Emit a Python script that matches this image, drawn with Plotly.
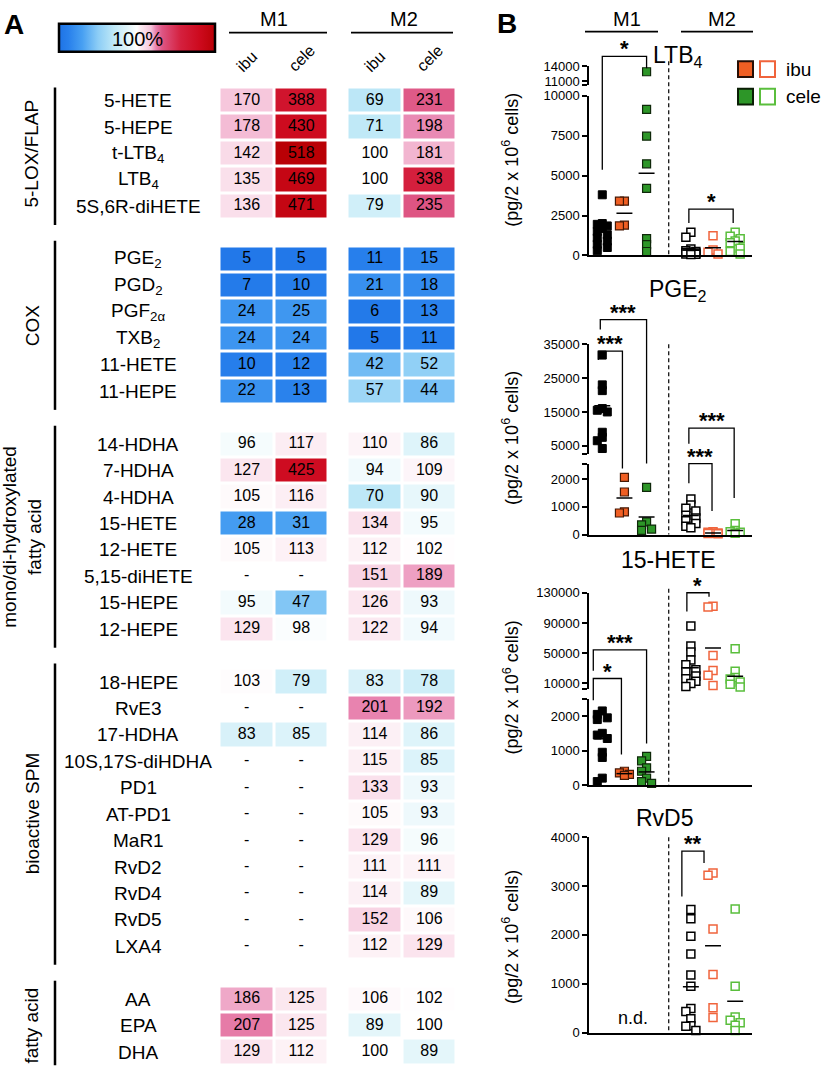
import plotly.graph_objects as go

W, H = 825, 1078
FONT = "Liberation Sans, Arial, sans-serif"


def fx(x):
    return x / W


def fy(y):
    return 1 - y / H


# ================= Panel A data =================
group_names = ["5-LOX/FLAP", "COX", "mono/di-hydroxylated<br>fatty acid", "bioactive SPM", "fatty acid"]
group_sizes = [5, 6, 8, 11, 3]
analytes = ["5-HETE", "5-HEPE", "t-LTB<sub>4</sub>", "LTB<sub>4</sub>", "5S,6R-diHETE",
            "PGE<sub>2</sub>", "PGD<sub>2</sub>", "PGF<sub>2α</sub>", "TXB<sub>2</sub>", "11-HETE", "11-HEPE",
            "14-HDHA", "7-HDHA", "4-HDHA", "15-HETE", "12-HETE", "5,15-diHETE", "15-HEPE", "12-HEPE",
            "18-HEPE", "RvE3", "17-HDHA", "10S,17S-diHDHA", "PD1", "AT-PD1", "MaR1", "RvD2", "RvD4", "RvD5", "LXA4",
            "AA", "EPA", "DHA"]
m1_ibu = [170, 178, 142, 135, 136,
          5, 7, 24, 24, 10, 22,
          96, 127, 105, 28, 105, None, 95, 129,
          103, None, 83, None, None, None, None, None, None, None, None,
          186, 207, 129]
m1_cele = [388, 430, 518, 469, 471,
           5, 10, 25, 24, 12, 13,
           117, 425, 116, 31, 113, None, 47, 98,
           79, None, 85, None, None, None, None, None, None, None, None,
           125, 125, 112]
m2_ibu = [69, 71, 100, 100, 79,
          11, 21, 6, 5, 42, 57,
          110, 94, 70, 134, 112, 151, 126, 122,
          83, 201, 114, 115, 133, 105, 129, 111, 114, 152, 112,
          106, 89, 100]
m2_cele = [231, 198, 181, 338, 235,
           15, 18, 13, 11, 52, 44,
           86, 109, 90, 95, 102, 189, 93, 94,
           78, 192, 86, 85, 93, 93, 96, 111, 89, 106, 129,
           102, 100, 89]
treat_labels = ["ibu", "cele"]
cond_labels = ["M1", "M2"]

# ================= Panel B data =================
group_x = [0.6, 1.6, 2.6, 4.6, 5.6, 6.6]   # M1 ctrl, M1 ibu, M1 cele, M2 ctrl, M2 ibu, M2 cele
ltb4_vals = [
    [3800, 2000, 1950, 1850, 1700, 1500, 1300, 1100, 900, 700, 500, 300],
    [3400, 3400, 1900, 1850],
    [12900, 9150, 7470, 5740, 4200, 1050, 680, 250],
    [1450, 1150, 400, 300, 250, 200, 180, 150, 120, 100, 80, 60],
    [1230, 350, 200, 100],
    [1450, 1200, 1050, 900, 800, 450, 250, 100],
]
ltb4_means = [1480, 2650, 5150, 350, 480, 880]
pge2_vals = [
    [31800, 23000, 21300, 16000, 15500, 15000, 9000, 7500, 6500, 4200],
    [2070, 1540, 820, 780],
    [1710, 460, 350, 200, 150],
    [1290, 1070, 950, 850, 700, 600, 500, 400, 300, 250],
    [100, 80, 60, 50, 40, 30],
    [390, 150, 100, 80, 50],
]
pge2_means = [16800, 1320, 640, 690, 60, 150]
hete15_vals = [
    [2150, 2050, 1950, 1900, 1500, 1450, 1350, 950, 800, 200, 100],
    [400, 350, 310, 280],
    [830, 700, 500, 400, 200, 100, 50],
    [86000, 59600, 51700, 41000, 34600, 28000, 25400, 20000, 16200, 13000, 10000, 6000],
    [112000, 111000, 47000, 27000, 20800, 7400],
    [56000, 26000, 18000, 16000, 12000, 9000, 5300],
]
hete15_means = [1340, 330, 380, 30600, 56800, 19500]
rvd5_vals = [
    [], [], [],
    [2520, 2330, 1970, 1610, 1180, 950, 490, 430, 280, 140, 130, 40],
    [3270, 3220, 2120, 1190, 510, 310],
    [2530, 950, 320, 250, 200, 150, 40],
]
rvd5_means = [None, None, None, 940, 1780, 640]

ORANGE = "rgb(240,95,35)"
GREEN = "rgb(45,150,40)"
styles = [
    dict(color="black", line=dict(color="black", width=1)),
    dict(color=ORANGE, line=dict(color="rgb(70,25,5)", width=1.2)),
    dict(color=GREEN, line=dict(color="rgb(15,40,10)", width=1.2)),
    dict(color="white", line=dict(color="black", width=1.5)),
    dict(color="white", line=dict(color="rgb(240,100,60)", width=1.5)),
    dict(color="white", line=dict(color="rgb(90,190,60)", width=1.5)),
]

fig = go.Figure()
shapes = []
annos = []

# ================= Panel A (heatmap) =================
ROW0 = 95.0
PITCH = 26.8
rows = []
idx = 0
group_rows = []
for g, n in enumerate(group_sizes):
    gr = []
    for i in range(n):
        rows.append(idx)
        gr.append(idx)
        idx += 1
    group_rows.append(gr)
    idx += 1
NROW = rows[-1]


def tr(v):
    # colour index: 100 % sits in the middle of the colour scale
    if v is None:
        return None
    return v / 100.0 if v <= 100 else 1 + (v - 100) / 418.0


colorscale = [
    [0.0, "rgb(30,115,230)"], [0.06, "rgb(40,128,236)"], [0.15, "rgb(72,160,242)"],
    [0.25, "rgb(140,205,246)"], [0.35, "rgb(190,232,247)"], [0.44, "rgb(226,245,250)"],
    [0.5, "rgb(255,255,255)"], [0.52, "rgb(252,237,243)"], [0.545, "rgb(250,222,234)"],
    [0.59, "rgb(245,195,218)"], [0.62, "rgb(232,132,176)"], [0.66, "rgb(222,86,132)"],
    [0.78, "rgb(212,32,62)"], [0.9, "rgb(205,10,30)"], [1.0, "rgb(185,0,5)"],
]

y_top = ROW0 - PITCH / 2
y_bot = ROW0 + NROW * PITCH + PITCH / 2

for ci, (va, vb) in enumerate([(m1_ibu, m1_cele), (m2_ibu, m2_cele)]):
    z = [[None, None] for _ in range(NROW + 1)]
    for k, r in enumerate(rows):
        z[r] = [tr(va[k]), tr(vb[k])]
    xa = "x" if ci == 0 else "x2"
    fig.add_trace(go.Heatmap(z=z, x=[0, 1], y=list(range(NROW + 1)), coloraxis="coloraxis",
                             xgap=3, ygap=3, xaxis=xa, yaxis="y", hoverinfo="skip"))
    txt = [("-" if v is None else str(v)) for v in va] + [("-" if v is None else str(v)) for v in vb]
    fig.add_trace(go.Scatter(x=[0] * len(rows) + [1] * len(rows), y=rows + rows, text=txt, mode="text",
                             textfont=dict(size=16, color="black", family=FONT), xaxis=xa, yaxis="y",
                             showlegend=False, hoverinfo="skip", cliponaxis=False))

# row labels
for k, r in enumerate(rows):
    annos.append(dict(x=fx(138), xref="paper", y=r, yref="y", text=analytes[k], showarrow=False,
                      font=dict(size=19, family=FONT, color="black"), xanchor="center", yanchor="middle"))
# group brackets + labels
for g, gr in enumerate(group_rows):
    shapes.append(dict(type="line", xref="paper", yref="y", x0=fx(55), x1=fx(55),
                       y0=gr[0] - 0.7, y1=gr[-1] + 0.7, line=dict(color="black", width=2.5)))
    two = "<br>" in group_names[g]
    annos.append(dict(x=fx(22 if two else 32), xref="paper", y=(gr[0] + gr[-1]) / 2, yref="y",
                      text=group_names[g], textangle=-90, showarrow=False,
                      font=dict(size=19, family=FONT, color="black"), xanchor="center", yanchor="middle"))

# headers
for ci, (cx, lx0, lx1) in enumerate([(274, 229, 327), (404, 351, 453)]):
    annos.append(dict(x=fx(cx), y=fy(12), xref="paper", yref="paper", text=cond_labels[ci], showarrow=False,
                      font=dict(size=20, family=FONT, color="black"), xanchor="center", yanchor="middle"))
    shapes.append(dict(type="line", xref="paper", yref="paper", x0=fx(lx0), x1=fx(lx1), y0=fy(26), y1=fy(26),
                       line=dict(color="black", width=1.8)))
for ci, xa in enumerate(["x", "x2"]):
    for ti, t in enumerate(treat_labels):
        annos.append(dict(x=ti, xref=xa, y=fy(55 if ti == 0 else 52), yref="paper", text=t, textangle=-45,
                          showarrow=False, font=dict(size=16, family=FONT, color="black"),
                          xanchor="center", yanchor="middle"))

annos.append(dict(x=fx(137), y=fy(32), xref="paper", yref="paper", text="100%", showarrow=False,
                  font=dict(size=20, family=FONT, color="black"), xanchor="center", yanchor="middle"))
annos.append(dict(x=fx(14), y=fy(18), xref="paper", yref="paper", text="<b>A</b>", showarrow=False,
                  font=dict(size=28, family=FONT, color="black"), xanchor="center", yanchor="middle"))
annos.append(dict(x=fx(507), y=fy(17), xref="paper", yref="paper", text="<b>B</b>", showarrow=False,
                  font=dict(size=28, family=FONT, color="black"), xanchor="center", yanchor="middle"))

layout = dict(
    width=W, height=H, margin=dict(l=0, r=0, t=0, b=0), paper_bgcolor="white", plot_bgcolor="rgba(0,0,0,0)",
    showlegend=False, font=dict(family=FONT, color="black"),
    coloraxis=dict(colorscale=colorscale, cmin=0, cmax=2,
                   colorbar=dict(orientation="h", x=fx(137), xanchor="center", y=fy(32), yanchor="middle",
                                 len=156, lenmode="pixels", thickness=28, thicknessmode="pixels",
                                 outlinewidth=2.5, outlinecolor="black", showticklabels=False, ticks="",
                                 xpad=0, ypad=0)),
    xaxis=dict(domain=[fx(219.5), fx(328.5)], range=[-0.5, 1.5], anchor="y", visible=False),
    xaxis2=dict(domain=[fx(347.5), fx(456.5)], range=[-0.5, 1.5], anchor="y", visible=False),
    yaxis=dict(domain=[max(0.0, fy(y_bot)), fy(y_top)], range=[NROW + 0.5, -0.5], anchor="x", visible=False),
)

# ================= Panel B (scatter) =================
XPX0, XPX1 = 589, 752
XR = [0, 7.36]
PXU = (XPX1 - XPX0) / (XR[1] - XR[0])

panels = [
    dict(title="LTB<sub>4</sub>", vals=ltb4_vals, means=ltb4_means, title_xy=(677, 50), ytitle_y=155,
         top=55, nd=False,
         segs=[dict(rng=[0, 10000], px=[252, 90], tv=[0, 2500, 5000, 7500, 10000],
                    tt=["0", "2500", "5000", "7500", "10000"]),
               dict(rng=[10300, 14000], px=[79, 60], tv=[10300, 11000, 14000], tt=["", "11000", "14000"])],
         brackets=[dict(g=(0, 2), top=50, lb=165, rb=62, lab="*", dx=(0, 0)),
                   dict(g=(3, 5), top=205, lb=219, rb=219, lab="*", dx=(-2, -2))]),
    dict(title="PGE<sub>2</sub>", vals=pge2_vals, means=pge2_means, title_xy=(678, 288), ytitle_y=437,
         top=342, nd=False,
         segs=[dict(rng=[0, 2570], px=[535, 463], tv=[0, 1000, 2000, 2570], tt=["0", "1000", "2000", ""]),
               dict(rng=[2670, 35000], px=[453, 342], tv=[2670, 5000, 15000, 25000, 35000],
                    tt=["", "5000", "15000", "25000", "35000"])],
         brackets=[dict(g=(0, 2), top=317, lb=327, rb=463, lab="***", dx=(-2, 0)),
                   dict(g=(0, 1), top=349, lb=358, rb=468, lab="***", dx=(-4, -2)),
                   dict(g=(3, 4), top=463, lb=483, rb=511, lab="***", dx=(-2, -1)),
                   dict(g=(3, 5), top=427, lb=443, rb=498, lab="***", dx=(-2, -1))]),
    dict(title="15-HETE", vals=hete15_vals, means=hete15_means, title_xy=(668, 561), ytitle_y=690,
         top=590, nd=False,
         segs=[dict(rng=[0, 2490], px=[789, 702], tv=[0, 1000, 2000, 2490], tt=["0", "1000", "2000", ""]),
               dict(rng=[2170, 130000], px=[692, 594], tv=[2170, 10000, 50000, 90000, 130000],
                    tt=["", "10000", "50000", "90000", "130000"])],
         brackets=[dict(g=(0, 2), top=652, lb=673, rb=747, lab="***", dx=(-9, 0)),
                   dict(g=(0, 1), top=681, lb=703, rb=758, lab="*", dx=(-9, -3)),
                   dict(g=(3, 4), top=594, lb=613, rb=598, lab="*", dx=(-4, -4))]),
    dict(title="RvD5", vals=rvd5_vals, means=rvd5_means, title_xy=(665, 822), ytitle_y=943,
         top=842, nd=True,
         segs=[dict(rng=[0, 4000], px=[1040, 842], tv=[0, 1000, 2000, 3000, 4000],
                    tt=["0", "1000", "2000", "3000", "4000"])],
         brackets=[dict(g=(3, 4), top=856, lb=902, rb=868, lab="**", dx=(-9, -9))]),
]

ynum = 2
for p, P in enumerate(panels):
    xn = 3 + p
    xid = f"x{xn}"
    yids = []
    for s, S in enumerate(P["segs"]):
        yid = f"y{ynum}"
        yids.append(yid)
        layout[f"yaxis{ynum}"] = dict(
            domain=[fy(S["px"][0]), fy(S["px"][1])], range=S["rng"], anchor=xid,
            showline=True, linecolor="black", linewidth=1.5, ticks="outside", ticklen=5, tickwidth=1.5,
            tickcolor="black", tickvals=S["tv"], ticktext=S["tt"], tickfont=dict(size=13, family=FONT),
            showgrid=False, zeroline=False)
        ynum += 1
    layout[f"xaxis{xn}"] = dict(domain=[fx(XPX0), fx(XPX1)], range=XR, anchor=yids[0], showline=True,
                                linecolor="black", linewidth=1.5, showticklabels=False, ticks="",
                                showgrid=False, zeroline=False)

    def seg_of(v, P=P):
        for s, S in enumerate(P["segs"]):
            if S["rng"][0] <= v <= S["rng"][1]:
                return s
        return 0 if v < P["segs"][0]["rng"][1] else len(P["segs"]) - 1

    def to_px(v, P=P):
        S = P["segs"][seg_of(v)]
        (lo, hi), (pb, pt) = S["rng"], S["px"]
        return pb + (v - lo) / (hi - lo) * (pt - pb)

    # points: small horizontal nudge for squares that would sit on top of each other
    for gi, vals in enumerate(P["vals"]):
        placed = []
        xs, ys = [], []
        for v in sorted(vals, reverse=True):
            yp = to_px(v)
            best, best_d = 0, -1
            for k in [0, -1, 1]:
                xo = k * 5.0
                d = min([max(abs(xo - a), abs(yp - b)) for a, b in placed] or [99])
                if d >= 6:
                    best = xo
                    break
                if d > best_d:
                    best, best_d = xo, d
            placed.append((best, yp))
            xs.append(group_x[gi] + best / PXU)
            ys.append(v)
        for s in range(len(P["segs"])):
            sx = [x for x, v in zip(xs, ys) if seg_of(v) == s]
            sy = [v for v in ys if seg_of(v) == s]
            if not sx:
                continue
            st = styles[gi]
            fig.add_trace(go.Scatter(x=sx, y=sy, mode="markers", xaxis=xid, yaxis=yids[s],
                                     marker=dict(symbol="square", size=8, color=st["color"], line=st["line"]),
                                     cliponaxis=False, showlegend=False, hoverinfo="skip"))
        m = P["means"][gi]
        if m is not None:
            s = seg_of(m)
            fig.add_trace(go.Scatter(x=[group_x[gi] - 0.36, group_x[gi] + 0.36], y=[m, m], mode="lines",
                                     xaxis=xid, yaxis=yids[s], line=dict(color="black", width=1.5),
                                     cliponaxis=False, showlegend=False, hoverinfo="skip"))

    # dashed separator
    shapes.append(dict(type="line", xref=xid, yref="paper", x0=3.6, x1=3.6, y0=fy(P["top"]),
                       y1=fy(P["segs"][0]["px"][0]), line=dict(color="black", width=1.2, dash="4px,3px")))
    # brackets
    for B in P["brackets"]:
        x1 = group_x[B["g"][0]] + B["dx"][0] / PXU
        x2 = group_x[B["g"][1]] + B["dx"][1] / PXU
        path = (f"M {x1},{fy(B['lb'])} L {x1},{fy(B['top'])} L {x2},{fy(B['top'])} L {x2},{fy(B['rb'])}")
        shapes.append(dict(type="path", xref=xid, yref="paper", path=path,
                           line=dict(color="black", width=1.3)))
        annos.append(dict(x=(x1 + x2) / 2, xref=xid, y=fy(B["top"] - 2), yref="paper", text=f"<b>{B['lab']}</b>",
                          showarrow=False, font=dict(size=22, family=FONT, color="black"),
                          xanchor="center", yanchor="bottom", yshift=-9))
    # titles
    annos.append(dict(x=fx(P["title_xy"][0]), y=fy(P["title_xy"][1]), xref="paper", yref="paper",
                      text=P["title"], showarrow=False, font=dict(size=23, family=FONT, color="black"),
                      xanchor="center", yanchor="middle"))
    annos.append(dict(x=fx(511), y=fy(P["ytitle_y"]), xref="paper", yref="paper",
                      text="(pg/2 x 10<sup>6</sup> cells)", textangle=-90, showarrow=False,
                      font=dict(size=18, family=FONT, color="black"), xanchor="center", yanchor="middle"))
    if P["nd"]:
        annos.append(dict(x=(group_x[0] + group_x[2]) / 2 + 0.4, xref=xid, y=fy(1025), yref="paper", text="n.d.",
                          showarrow=False, font=dict(size=18, family=FONT, color="black"),
                          xanchor="center", yanchor="middle"))

# panel B headers
for ci, (cx, lx0, lx1) in enumerate([(627, 585, 658), (722, 681, 753)]):
    annos.append(dict(x=fx(cx), y=fy(12), xref="paper", yref="paper", text=cond_labels[ci], showarrow=False,
                      font=dict(size=20, family=FONT, color="black"), xanchor="center", yanchor="middle"))
    shapes.append(dict(type="line", xref="paper", yref="paper", x0=fx(lx0), x1=fx(lx1), y0=fy(25), y1=fy(25),
                       line=dict(color="black", width=1.8)))

# legend (filled = M1, open = M2)
for ri, (lab, fill, edge, open_edge) in enumerate([("ibu", ORANGE, "rgb(40,15,5)", "rgb(240,100,60)"),
                                                   ("cele", GREEN, "rgb(10,30,5)", "rgb(90,190,60)")]):
    cy = 63 + ri * 28
    shapes.append(dict(type="rect", xref="paper", yref="paper", x0=fx(738), x1=fx(753), y0=fy(cy - 8),
                       y1=fy(cy + 8), fillcolor=fill, line=dict(color=edge, width=2)))
    shapes.append(dict(type="rect", xref="paper", yref="paper", x0=fx(760), x1=fx(775), y0=fy(cy - 8),
                       y1=fy(cy + 8), fillcolor="white", line=dict(color=open_edge, width=2)))
    annos.append(dict(x=fx(784), y=fy(cy), xref="paper", yref="paper", text=lab, showarrow=False,
                      font=dict(size=19, family=FONT, color="black"), xanchor="left", yanchor="middle"))

layout["shapes"] = shapes
layout["annotations"] = annos
fig.update_layout(**layout)
fig.write_html("out.html", config={"displayModeBar": False},
               post_script="document.body.style.margin='0';document.body.style.padding='0';")
